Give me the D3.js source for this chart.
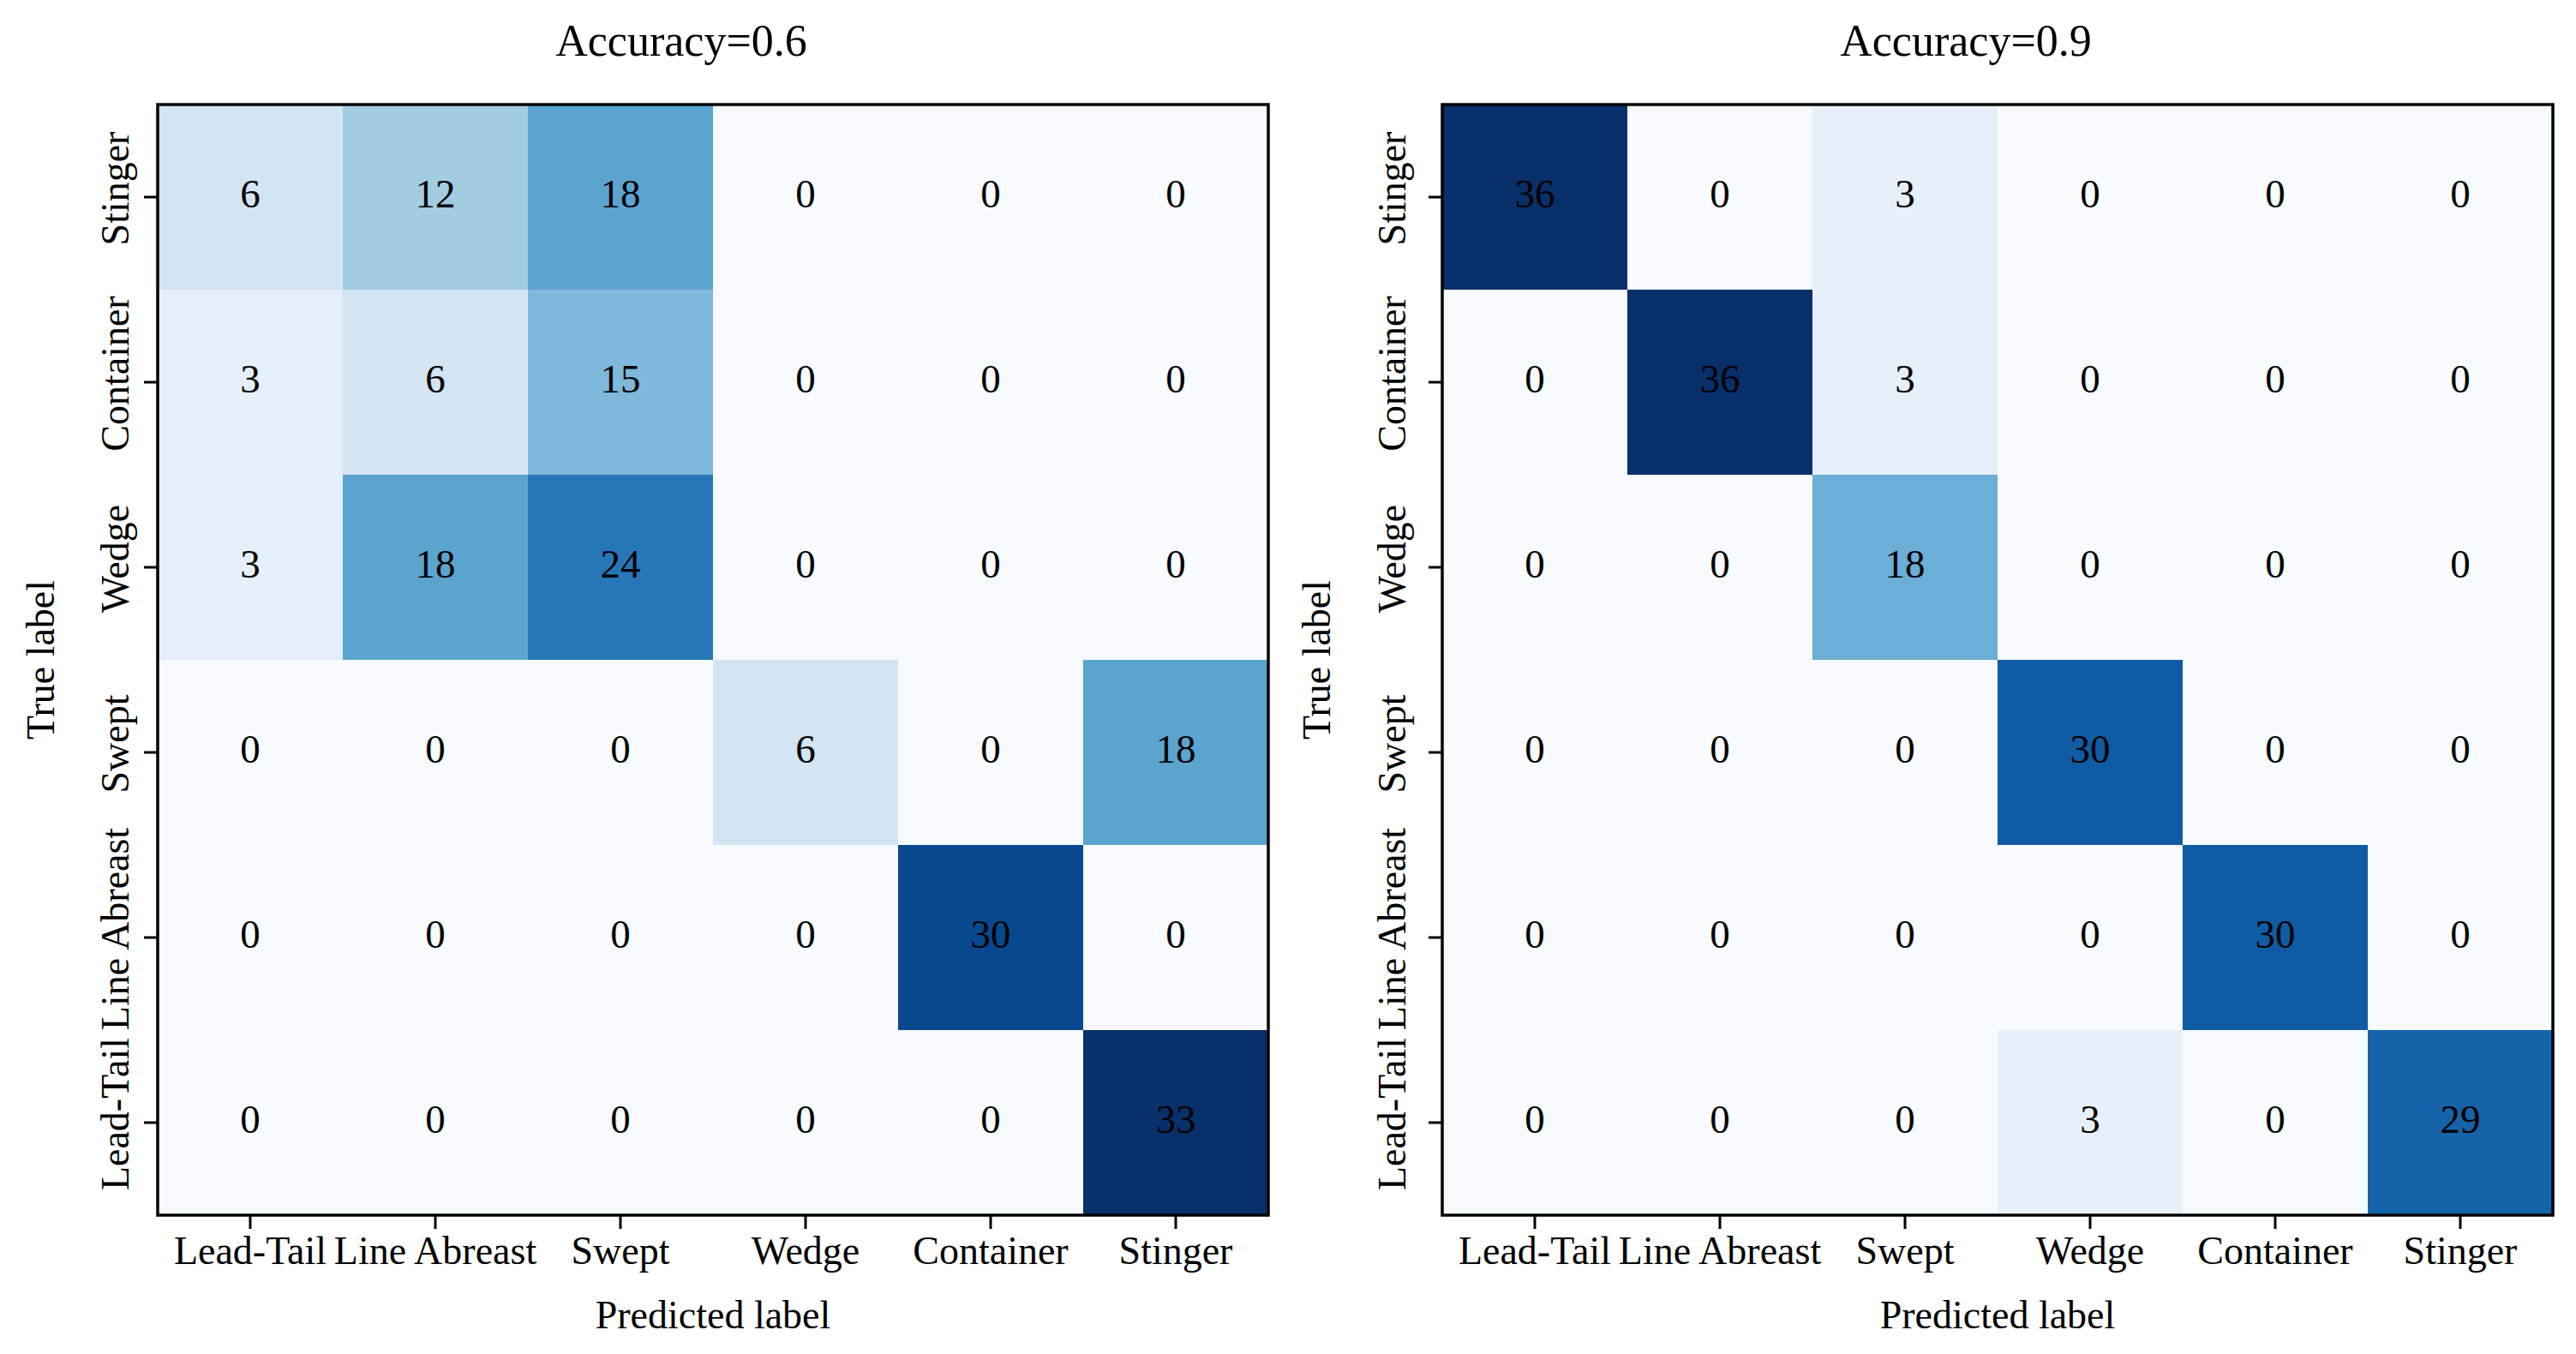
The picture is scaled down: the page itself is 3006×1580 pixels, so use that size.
<!DOCTYPE html>
<html>
<head>
<meta charset="utf-8">
<script src="https://cdn.jsdelivr.net/npm/d3@7"></script>
<style>
  body { margin: 0; background: #fff; }
  svg { display: block; }
</style>
</head>
<body>
<div id="chart"></div>
<script>
// Class names along the predicted axis (left to right)
var predictedLabels = ["Lead-Tail", "Line Abreast", "Swept", "Wedge", "Container", "Stinger"];
// Class names along the true axis (top to bottom)
var trueLabels = ["Stinger", "Container", "Wedge", "Swept", "Line Abreast", "Lead-Tail"];

// Confusion counts, one row per true label (same order as trueLabels)
var countsLeft = [
  [6, 12, 18, 0, 0, 0],
  [3, 6, 15, 0, 0, 0],
  [3, 18, 24, 0, 0, 0],
  [0, 0, 0, 6, 0, 18],
  [0, 0, 0, 0, 30, 0],
  [0, 0, 0, 0, 0, 33]
];
var countsRight = [
  [36, 0, 3, 0, 0, 0],
  [0, 36, 3, 0, 0, 0],
  [0, 0, 18, 0, 0, 0],
  [0, 0, 0, 30, 0, 0],
  [0, 0, 0, 0, 30, 0],
  [0, 0, 0, 3, 0, 29]
];
var panelTitles = ["Accuracy=0.6", "Accuracy=0.9"];

var W = 3006, H = 1580;
var FONT = "'Liberation Serif', 'Times New Roman', Times, serif";
var size = 1296, top0 = 122;
var tickFont = 46;

// per panel layout: left edge, y tick label offset, y axis label offset
var panels = [
  { counts: countsLeft, title: panelTitles[0], x0: 184, tickOff: 34, labOff: 121 },
  { counts: countsRight, title: panelTitles[1], x0: 1683, tickOff: 43, labOff: 131 }
];

var svg = d3.select("#chart").append("svg")
  .attr("width", W)
  .attr("height", H)
  .style("font-family", FONT);

svg.append("rect").attr("width", W).attr("height", H).attr("fill", "#fff");

// matplotlib "Blues" is a linear ramp through the 9 ColorBrewer stops
var blues = d3.schemeBlues[9];

panels.forEach(function(p) {
  var maxVal = d3.max(p.counts, function(r) { return d3.max(r); });
  var color = d3.scaleLinear()
    .domain(blues.map(function(d, i) { return i / (blues.length - 1) * maxVal; }))
    .range(blues)
    .interpolate(d3.interpolateRgb);

  var x = d3.scaleBand().domain(predictedLabels).range([p.x0, p.x0 + size]);
  var y = d3.scaleBand().domain(trueLabels).range([top0, top0 + size]);

  var cells = [];
  p.counts.forEach(function(row, i) {
    row.forEach(function(v, j) {
      cells.push({ t: trueLabels[i], pr: predictedLabels[j], v: v });
    });
  });

  var g = svg.append("g");

  g.selectAll("rect.cell")
    .data(cells)
    .enter().append("rect")
    .attr("class", "cell")
    .attr("x", function(d) { return x(d.pr); })
    .attr("y", function(d) { return y(d.t); })
    .attr("width", x.bandwidth() + 0.5)
    .attr("height", y.bandwidth() + 0.5)
    .attr("fill", function(d) { return color(d.v); });

  g.selectAll("text.val")
    .data(cells)
    .enter().append("text")
    .attr("class", "val")
    .attr("x", function(d) { return x(d.pr) + x.bandwidth() / 2; })
    .attr("y", function(d) { return y(d.t) + y.bandwidth() / 2 + 12; })
    .attr("text-anchor", "middle")
    .attr("font-size", 47)
    .attr("fill", "#000")
    .text(function(d) { return d.v; });

  // x axis
  var xa = g.append("g")
    .attr("transform", "translate(0," + (top0 + size) + ")")
    .call(d3.axisBottom(x).tickSize(16).tickSizeOuter(0));
  xa.select(".domain").remove();
  xa.selectAll("line").attr("stroke", "#000").attr("stroke-width", 3);
  xa.selectAll("text")
    .attr("y", 57).attr("dy", 0)
    .attr("font-size", tickFont)
    .attr("font-family", FONT)
    .attr("fill", "#000");

  // y axis, labels rotated to read upward
  var ya = g.append("g")
    .attr("transform", "translate(" + p.x0 + ",0)")
    .call(d3.axisLeft(y).tickSize(16).tickSizeOuter(0));
  ya.select(".domain").remove();
  ya.selectAll("line").attr("stroke", "#000").attr("stroke-width", 3);
  ya.selectAll("text")
    .attr("transform", "rotate(-90)")
    .attr("x", 10)
    .attr("y", -p.tickOff)
    .attr("dy", 0)
    .attr("text-anchor", "middle")
    .attr("font-size", tickFont)
    .attr("font-family", FONT)
    .attr("fill", "#000");

  // frame
  g.append("rect")
    .attr("x", p.x0).attr("y", top0)
    .attr("width", size).attr("height", size)
    .attr("fill", "none")
    .attr("stroke", "#000")
    .attr("stroke-width", 3.5);

  // titles and axis labels
  g.append("text")
    .attr("x", p.x0 + size / 2 - 37)
    .attr("y", 65)
    .attr("text-anchor", "middle")
    .attr("font-size", 52)
    .text(p.title);

  g.append("text")
    .attr("x", p.x0 + size / 2)
    .attr("y", top0 + size + 132)
    .attr("text-anchor", "middle")
    .attr("font-size", tickFont)
    .text("Predicted label");

  g.append("text")
    .attr("transform", "translate(" + (p.x0 - p.labOff) + "," + (top0 + size / 2) + ") rotate(-90)")
    .attr("text-anchor", "middle")
    .attr("font-size", tickFont)
    .text("True label");
});
</script>
</body>
</html>
